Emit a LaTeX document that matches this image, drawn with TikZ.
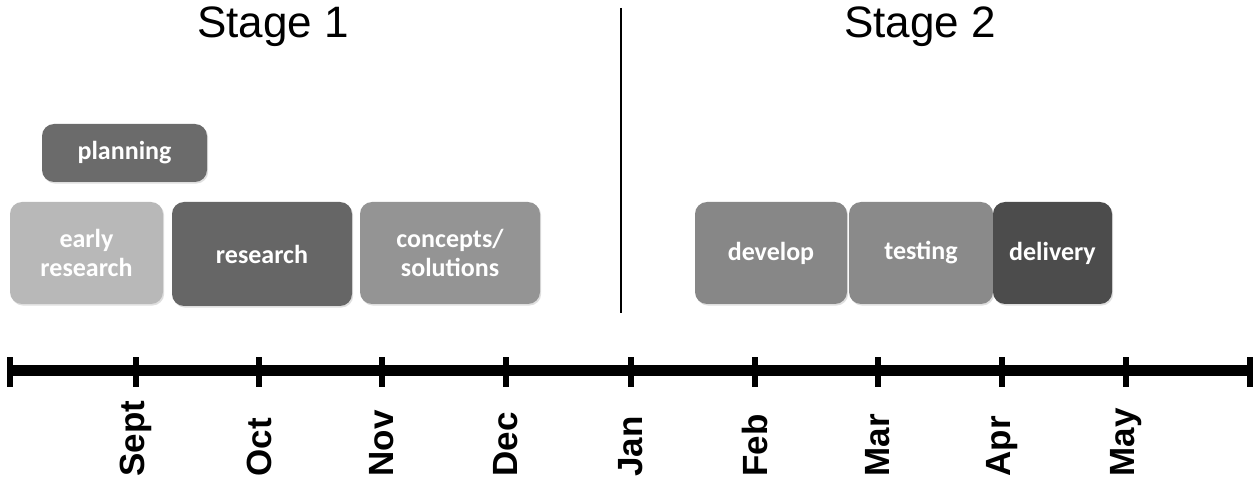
\documentclass[tikz,border=0pt]{standalone}
\usepackage{fontspec}
\setmainfont{Liberation Sans}
\newfontfamily\boxfont{Carlito}
\usetikzlibrary{shadows}
\begin{document}
\begin{tikzpicture}[x=0.5pt,y=-0.5pt,
  task/.style={rounded corners=6pt, inner sep=0pt, align=center, text=white,
    font=\boxfont\bfseries\fontsize{13}{14.8}\selectfont,
    drop shadow={shadow xshift=0.6pt, shadow yshift=-0.8pt, opacity=0.25}},
  month/.style={rotate=90, anchor=west, inner sep=0pt, font=\bfseries\fontsize{17.5}{19}\selectfont},
  stage/.style={font=\fontsize{22}{24}\selectfont, inner sep=0pt},
  tick/.style={line width=3pt},
]
\useasboundingbox (0,0) rectangle (1255,481);
\fill[white] (0,0) rectangle (1255,481);

% stage titles and divider
\node[stage] (s1) at (273,27) {Stage 1};
\node[stage] (s2) at (920,27) {Stage 2};
\coordinate (dtop) at (621,8);
\coordinate (dbot) at (621,313);
\draw[line width=1pt] (dtop) -- (dbot);

% task boxes
\node[task, fill=black!58, minimum width=82.5pt, minimum height=29pt] (plan) at (124.5,153) {planning};
\node[task, fill=black!28, minimum width=76.5pt, minimum height=51pt] (early) at (86.5,253) {early\\research};
\node[task, fill=black!60, minimum width=90pt, minimum height=52pt] (res) at (262,254) {research};
\node[task, fill=black!42, minimum width=90pt, minimum height=51pt] (conc) at (450,253) {concepts/\\solutions};
\node[task, fill=black!47, minimum width=76pt, minimum height=51pt] (dev) at (771,253) {develop};
\node[task, fill=black!46, minimum width=72pt, minimum height=51pt] (test) at (921,253) {testing};
\node[task, fill=black!70, minimum width=59.5pt, minimum height=51pt] (deliv) at (1052.5,253) {delivery};

% axis
\coordinate (a0) at (10,370);
\coordinate (a10) at (1250,370);
\draw[line width=5.5pt] (a0) -- (a10);
\foreach \x in {10,136,259,382,506,631,755,878,1002,1126,1250}{
  \draw[tick] (\x,357) -- (\x,387);
}
\foreach \x/\m in {136/Sept,259/Oct,382/Nov,506/Dec,631/Jan,755/Feb,878/Mar,1002/Apr,1126/May}{
  \node[month] (m\m) at (\x,477) {\m};
}
\end{tikzpicture}
\end{document}
